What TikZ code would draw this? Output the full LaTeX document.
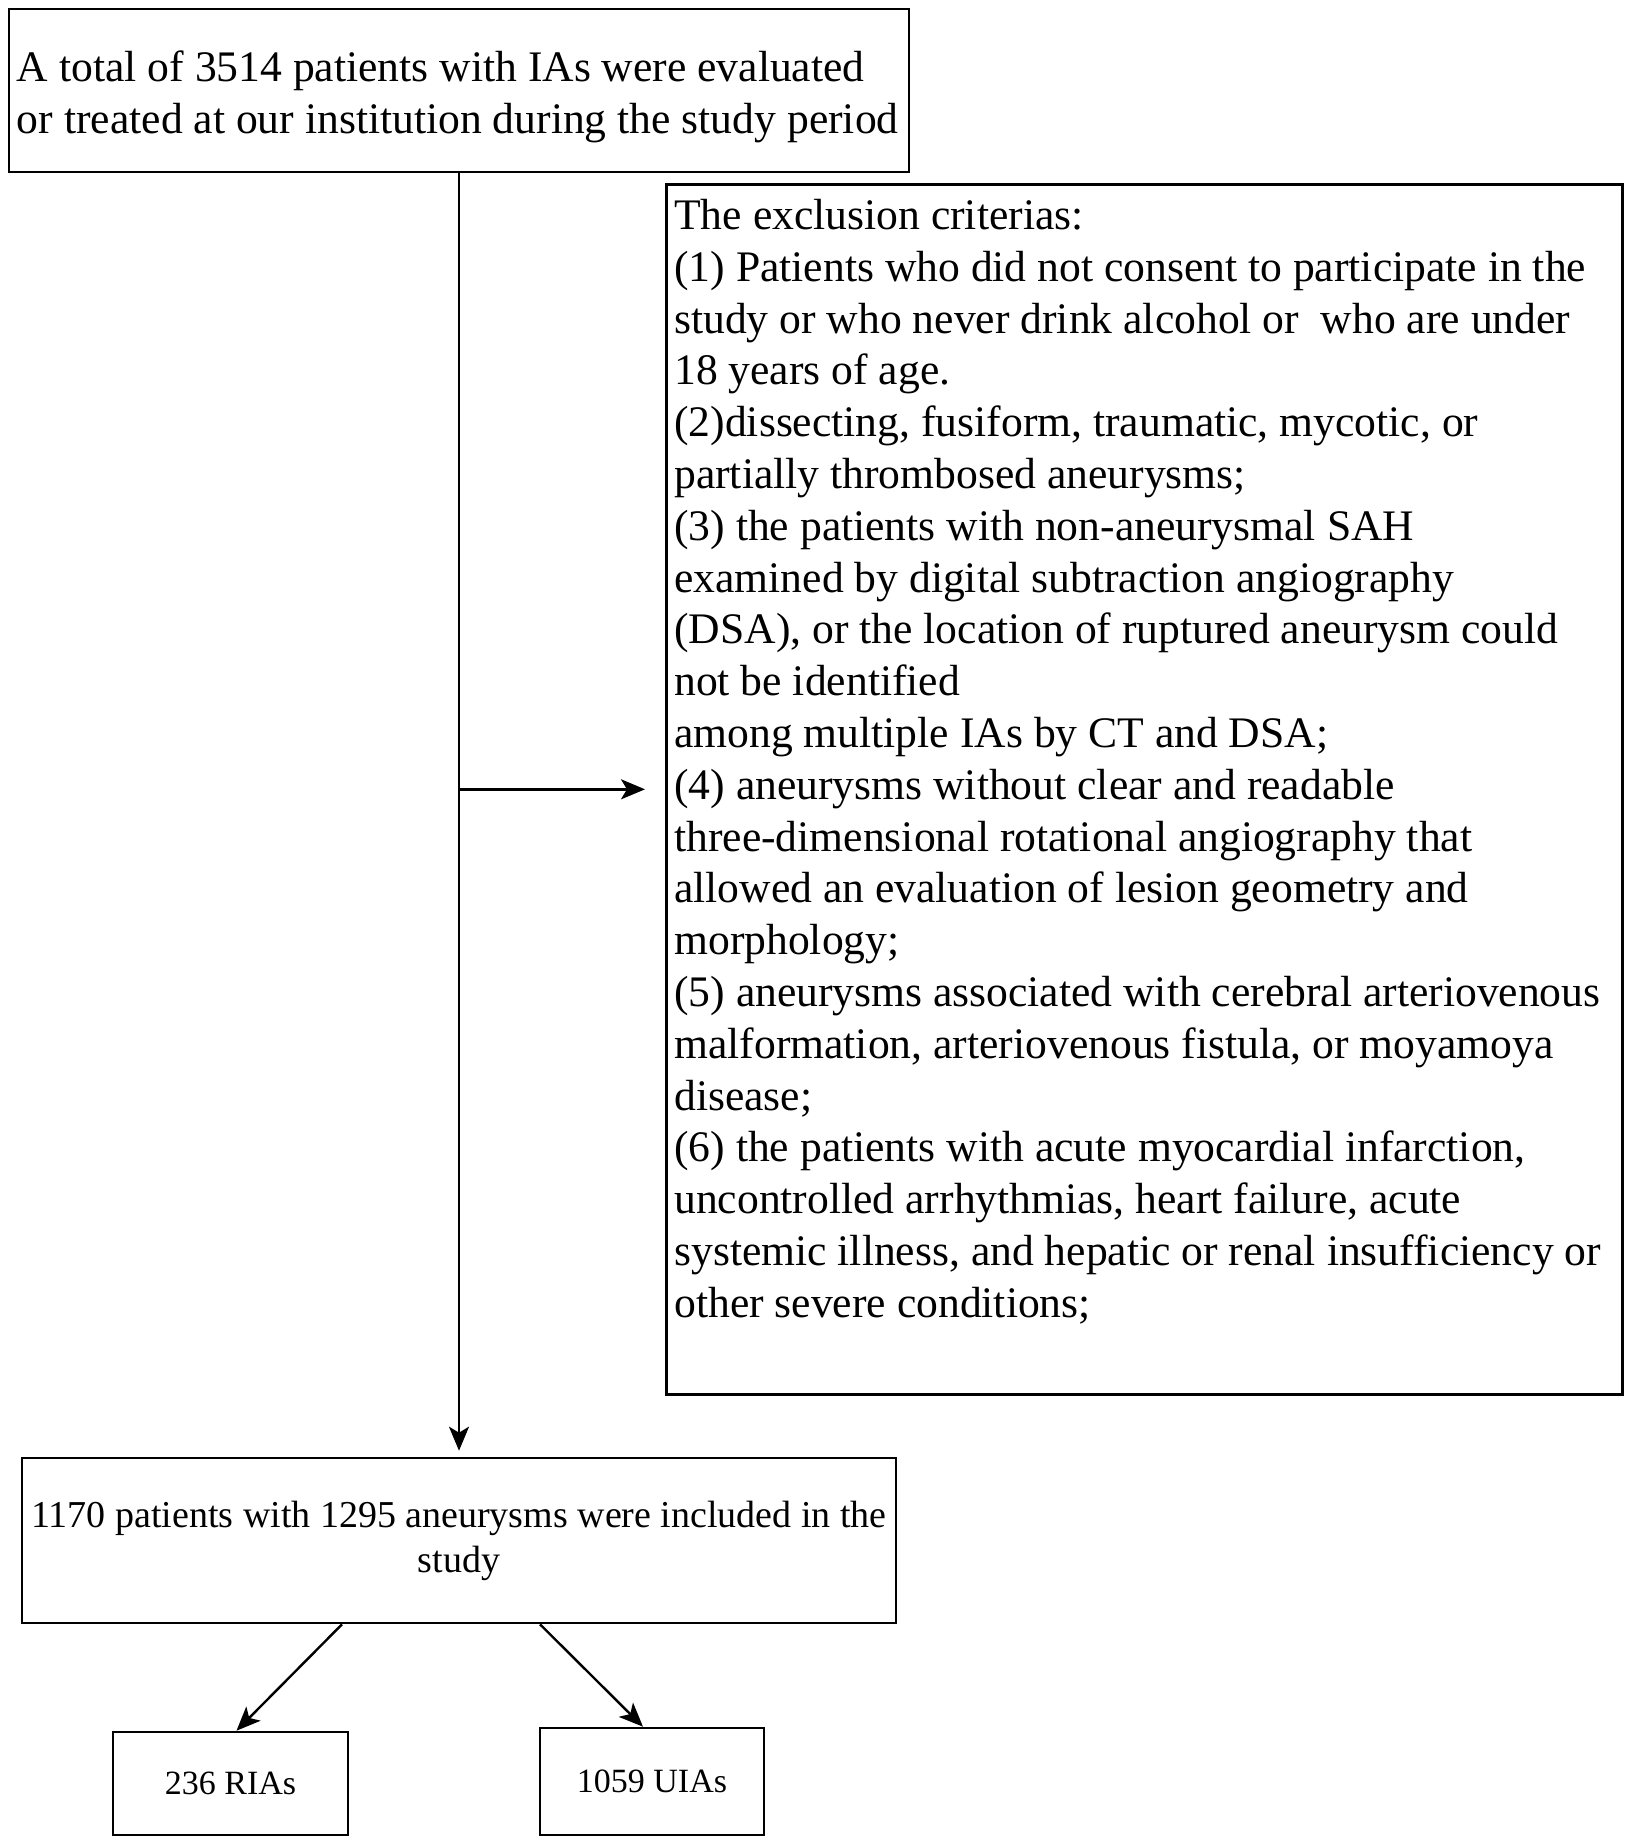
\documentclass[tikz,border=0pt]{standalone}
\usepackage{fontspec}
\setmainfont{Liberation Serif}
\usetikzlibrary{arrows.meta}
\tikzset{
    flow-box/.style = {draw=black, line width=1.3pt, rectangle, inner sep=4pt},
    flow-arrow/.style = {line width=1.2pt, -{Stealth[length=12pt,width=10pt,inset=3pt]}},
}

\begin{document}
\begin{tikzpicture}[x=0.5pt, y=-0.5pt]
\useasboundingbox (0,0) rectangle (1630,1842);
\node [flow-box, minimum width=450pt, minimum height=81.5pt] (total) at (459,90.5) {\begin{minipage}{442pt}\fontsize{21.8}{25.9}\selectfont
    \vspace{6pt}
    A total of 3514 patients with IAs were evaluated\\
    or treated at our institution during the study period
\end{minipage}};
\node [flow-box, anchor=north west, inner ysep=7.5pt] (excl) at (665,183) {\begin{minipage}[t][590pt][t]{470pt}\raggedright\fontsize{21.8}{25.9}\selectfont
    The exclusion criterias:\\
    (1) Patients who did not consent to participate in the\\
    study or who never drink alcohol or~ who are under\\
    18 years of age.\\
    (2)dissecting, fusiform, traumatic, mycotic, or\\
    partially thrombosed aneurysms;\\
    (3) the patients with non-aneurysmal SAH\\
    examined by digital subtraction angiography\\
    (DSA), or the location of ruptured aneurysm could\\
    not be identified\\
    among multiple IAs by CT and DSA;\\
    (4) aneurysms without clear and readable\\
    three-dimensional rotational angiography that\\
    allowed an evaluation of lesion geometry and\\
    morphology;\\
    (5) aneurysms associated with cerebral arteriovenous\\
    malformation, arteriovenous fistula, or moyamoya\\
    disease;\\
    (6) the patients with acute myocardial infarction,\\
    uncontrolled arrhythmias, heart failure, acute\\
    systemic illness, and hepatic or renal insufficiency or\\
    other severe conditions;
\end{minipage}};
\node [flow-box, minimum width=437pt, minimum height=82.5pt, inner xsep=2pt] (incl) at (459,1540.5) {\begin{minipage}{433pt}\centering\fontsize{19}{22.4}\selectfont
    1170 patients with 1295 aneurysms were included in the\\
    study
\end{minipage}};
\node [flow-box, minimum width=117.5pt, minimum height=51.5pt, font=\fontsize{17}{20}\selectfont] (ria) at (230.5,1783.5) {236 RIAs};
\node [flow-box, minimum width=112pt, minimum height=53.5pt, font=\fontsize{17}{20}\selectfont] (uia) at (652,1781.5) {1059 UIAs};
% arrows
\draw [flow-arrow, shorten >=3pt] (total.south) -- (incl.north);
\draw [flow-arrow] (total.south |- excl.west) -- ([xshift=-10pt]excl.west);
\draw [flow-arrow] ([xshift=-58.5pt]incl.south) -- ([xshift=3pt]ria.north);
\draw [flow-arrow] ([xshift=40.5pt]incl.south) -- ([xshift=-4.5pt]uia.north);
\end{tikzpicture}
\end{document}
